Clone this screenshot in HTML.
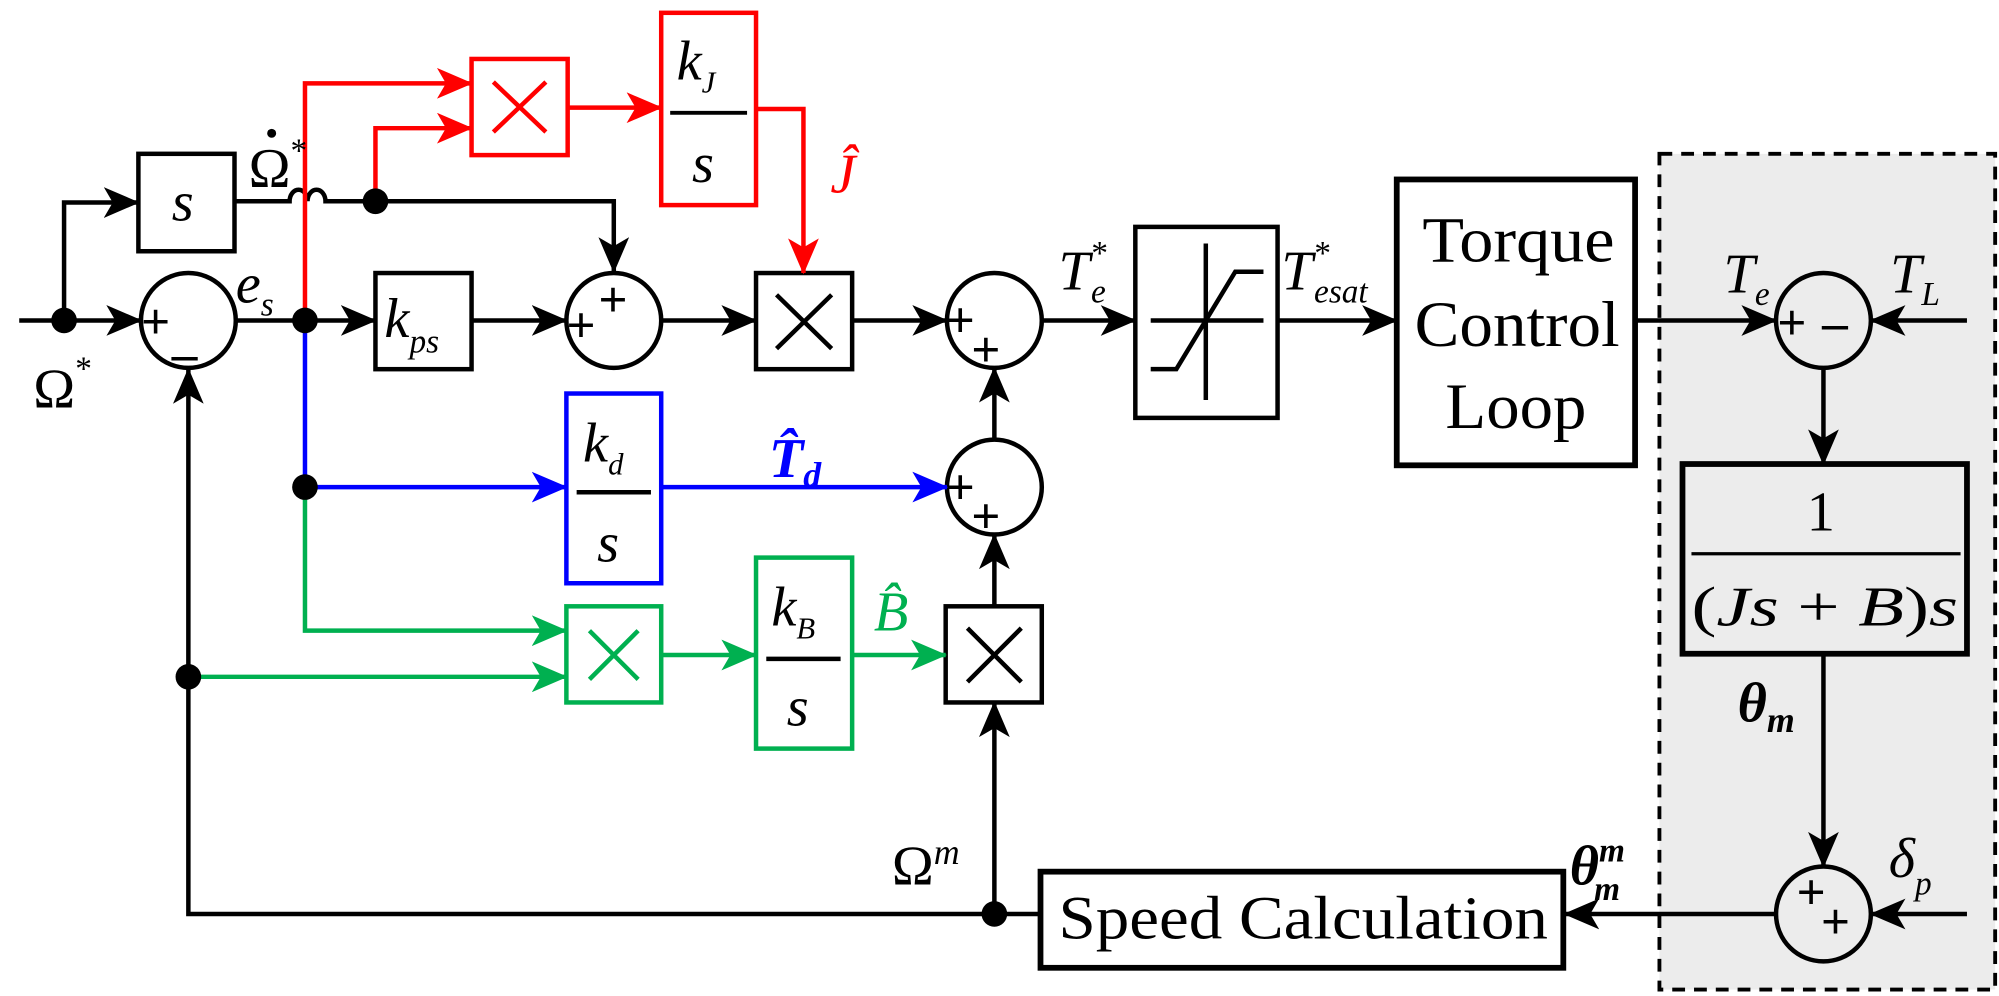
<!DOCTYPE html>
<html><head><meta charset="utf-8"><style>
html,body{margin:0;padding:0;background:#fff;}
svg{display:block}
text{font-family:"Liberation Serif",serif;}
.i{font-style:italic}
</style></head><body>
<svg width="1999" height="996" viewBox="0 0 1560 777" preserveAspectRatio="none" xmlns="http://www.w3.org/2000/svg">
<defs>
<marker id="k" markerWidth="28" markerHeight="24" refX="27" refY="12" orient="auto" markerUnits="userSpaceOnUse"><path d="M0,0 L28,12 L0,24 L7,12 Z" fill="#000"/></marker>
<marker id="r" markerWidth="28" markerHeight="24" refX="27" refY="12" orient="auto" markerUnits="userSpaceOnUse"><path d="M0,0 L28,12 L0,24 L7,12 Z" fill="#f00"/></marker>
<marker id="b" markerWidth="28" markerHeight="24" refX="27" refY="12" orient="auto" markerUnits="userSpaceOnUse"><path d="M0,0 L28,12 L0,24 L7,12 Z" fill="#00f"/></marker>
<marker id="g" markerWidth="28" markerHeight="24" refX="27" refY="12" orient="auto" markerUnits="userSpaceOnUse"><path d="M0,0 L28,12 L0,24 L7,12 Z" fill="#00b050"/></marker>
</defs>
<rect x="1295" y="120" width="262" height="652" fill="#ececec" stroke="#000" stroke-width="3" stroke-dasharray="10,7"/>

<g fill="none" stroke="#000" stroke-width="3.5">
<line x1="15" y1="250" x2="110" y2="250" marker-end="url(#k)"/>
<polyline points="50,250 50,158 108,158" marker-end="url(#k)"/>
<rect x="108" y="120" width="75" height="76"/>
<path d="M183,157 L226,157 A7,9 0 0 1 240,157 A7,9 0 0 1 254,157 L479,157 L479,212" marker-end="url(#k)"/>
<circle cx="147" cy="250" r="37"/>
<line x1="184" y1="250" x2="293" y2="250" marker-end="url(#k)"/>
<rect x="293" y="213" width="75" height="75"/>
<line x1="368" y1="250" x2="442" y2="250" marker-end="url(#k)"/>
<circle cx="479" cy="250" r="37"/>
<line x1="516" y1="250" x2="590" y2="250" marker-end="url(#k)"/>
<rect x="590" y="213" width="75" height="75"/>
<line x1="665" y1="250" x2="739" y2="250" marker-end="url(#k)"/>
<circle cx="776" cy="250" r="37"/>
<line x1="813" y1="250" x2="886" y2="250" marker-end="url(#k)"/>
<rect x="886" y="177" width="111" height="149"/>
<line x1="997" y1="250" x2="1090" y2="250" marker-end="url(#k)"/>
<rect x="1090" y="140" width="186" height="223" stroke-width="4.5"/>
<line x1="1276" y1="250" x2="1386" y2="250" marker-end="url(#k)"/>
<circle cx="1423" cy="250" r="37"/>
<line x1="1535" y1="250" x2="1460" y2="250" marker-end="url(#k)"/>
<line x1="1423" y1="287" x2="1423" y2="362" marker-end="url(#k)"/>
<rect x="1313" y="362" width="222" height="148" stroke-width="4.5"/>
<line x1="1423" y1="510" x2="1423" y2="676" marker-end="url(#k)"/>
<circle cx="1423" cy="713" r="37"/>
<line x1="1535" y1="713" x2="1460" y2="713" marker-end="url(#k)"/>
<line x1="1386" y1="713" x2="1221" y2="713" marker-end="url(#k)"/>
<rect x="812" y="680" width="408" height="75" stroke-width="4.5"/>
<polyline points="812,713 147,713 147,288" marker-end="url(#k)"/>
<line x1="776" y1="713" x2="776" y2="548" marker-end="url(#k)"/>
<rect x="738" y="473" width="75" height="75"/>
<line x1="776" y1="473" x2="776" y2="417" marker-end="url(#k)"/>
<circle cx="776" cy="380" r="37"/>
<line x1="776" y1="343" x2="776" y2="287" marker-end="url(#k)"/>
<line x1="898" y1="250" x2="986" y2="250"/>
<line x1="941" y1="190" x2="941" y2="312"/>
<polyline points="898,288 918,288 964,212 986,212"/>
<path d="M606,230 L649,272 M649,230 L606,272"/>
<path d="M755,490 L797,532 M797,490 L755,532"/>
<line x1="1320" y1="432" x2="1530" y2="432" stroke-width="2.5"/>
</g>
<g fill="none" stroke="#f00" stroke-width="3.5">
<polyline points="238,250 238,65 368,65" marker-end="url(#r)"/>
<polyline points="293,157 293,100 368,100" marker-end="url(#r)"/>
<rect x="368" y="46" width="75" height="75"/>
<path d="M385,64 L426,103 M426,64 L385,103"/>
<line x1="443" y1="84" x2="516" y2="84" marker-end="url(#r)"/>
<rect x="516" y="10" width="74" height="150"/>
<line x1="523" y1="88" x2="583" y2="88" stroke="#000" stroke-width="3"/>
<polyline points="590,85 627,85 627,213" marker-end="url(#r)"/>
</g>
<g fill="none" stroke="#00f" stroke-width="3.5">
<line x1="238" y1="250" x2="238" y2="380"/>
<line x1="238" y1="380" x2="442" y2="380" marker-end="url(#b)"/>
<rect x="442" y="307" width="74" height="148"/>
<line x1="450" y1="384" x2="508" y2="384" stroke="#000"/>
<line x1="516" y1="380" x2="739" y2="380" marker-end="url(#b)"/>
</g>
<g fill="none" stroke="#00b050" stroke-width="3.5">
<polyline points="238,380 238,492 442,492" marker-end="url(#g)"/>
<line x1="147" y1="528" x2="442" y2="528" marker-end="url(#g)"/>
<rect x="442" y="473" width="74" height="75"/>
<path d="M460,492 L498,530 M498,492 L460,530"/>
<line x1="516" y1="511" x2="590" y2="511" marker-end="url(#g)"/>
<rect x="590" y="435" width="75" height="149"/>
<line x1="598" y1="514" x2="656" y2="514" stroke="#000"/>
<line x1="665" y1="511" x2="738" y2="511" marker-end="url(#g)"/>
</g>
<g fill="#000">
<circle cx="50" cy="250" r="10"/><circle cx="238" cy="250" r="10"/><circle cx="293" cy="157" r="10"/>
<circle cx="238" cy="380" r="10"/><circle cx="147" cy="528" r="10"/><circle cx="776" cy="713" r="10"/>
<circle cx="212" cy="104" r="3.5"/>
</g>
<g font-family="Liberation Sans,sans-serif" font-weight="bold" font-size="40" fill="#000">
<text x="110" y="264">+</text><text x="134" y="289">–</text>
<text x="442" y="267">+</text><text x="467" y="247">+</text>
<text x="738" y="263">+</text><text x="758" y="286">+</text>
<text x="738" y="393">+</text><text x="758" y="416">+</text>
<text x="1387" y="265">+</text><text x="1422" y="265">–</text>
<text x="1402" y="709">+</text><text x="1421" y="732">+</text>
</g>
<g fill="#000" font-size="44">
<text x="134" y="172" class="i">s</text>
<text x="300" y="263" class="i">k<tspan font-size="26" dy="12">ps</tspan></text>
<text x="1110" y="204" textLength="150" lengthAdjust="spacingAndGlyphs" font-size="50">Torque</text>
<text x="1104" y="270" textLength="160" lengthAdjust="spacingAndGlyphs" font-size="50">Control</text>
<text x="1128" y="334" textLength="110" lengthAdjust="spacingAndGlyphs" font-size="50">Loop</text>
<text x="826" y="732" font-size="48" textLength="382" lengthAdjust="spacingAndGlyphs">Speed Calculation</text>
<text x="1410" y="414" font-size="44">1</text>
<text x="1320" y="488" font-size="44" textLength="208" lengthAdjust="spacingAndGlyphs">(<tspan class="i">Js</tspan> + <tspan class="i">B</tspan>)<tspan class="i">s</tspan></text>
<text x="26" y="318">Ω<tspan font-size="26" dy="-22">*</tspan></text>
<text x="194" y="146">Ω<tspan font-size="26" dy="-20">*</tspan></text>
<text x="184" y="236" class="i">e<tspan font-size="26" dy="10">s</tspan></text>
<text x="826" y="226" class="i">T<tspan font-size="26" dy="-20">*</tspan><tspan font-size="26" dx="-12" dy="30">e</tspan></text>
<text x="1000" y="226" class="i">T<tspan font-size="26" dy="-20">*</tspan><tspan font-size="26" dx="-12" dy="30">esat</tspan></text>
<text x="1345" y="228" class="i">T<tspan font-size="26" dy="10">e</tspan></text>
<text x="1475" y="228" class="i">T<tspan font-size="26" dy="10">L</tspan></text>
<text x="1356" y="563" class="i" font-weight="bold">θ<tspan font-size="28" dy="8">m</tspan></text>
<text x="1225" y="690" class="i" font-weight="bold">θ<tspan font-size="26" dy="-18">m</tspan><tspan font-size="26" dx="-24" dy="30">m</tspan></text>
<text x="1474" y="684" class="i">δ<tspan font-size="26" dy="14">p</tspan></text>
<text x="696" y="690">Ω<tspan font-size="28" dy="-16" class="i">m</tspan></text>
<text x="528" y="62" class="i">k<tspan font-size="24" dy="10">J</tspan></text>
<text x="540" y="142" class="i">s</text>
<text x="455" y="360" class="i">k<tspan font-size="24" dy="10">d</tspan></text>
<text x="466" y="438" class="i">s</text>
<text x="602" y="488" class="i">k<tspan font-size="24" dy="10">B</tspan></text>
<text x="614" y="566" class="i">s</text>
<text x="648" y="150" class="i" fill="#f00">Ĵ</text>
<text x="600" y="372" class="i" font-weight="bold" fill="#00f">T̂<tspan font-size="28" dy="8">d</tspan></text>
<text x="682" y="492" class="i" fill="#00b050">B̂</text>
</g>
</svg>
</body></html>
